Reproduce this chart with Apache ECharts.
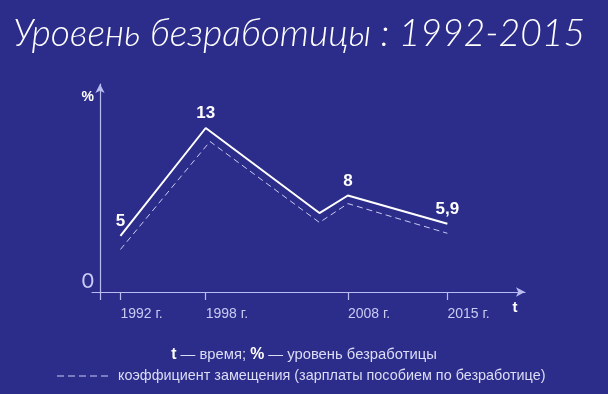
<!DOCTYPE html>
<html>
<head>
<meta charset="utf-8">
<script src="https://cdn.jsdelivr.net/npm/echarts@6/dist/echarts.min.js"></script>
<style>html,body{margin:0;padding:0;background:#2c2d8a;}#c{width:608px;height:394px;}</style>
</head>
<body>
<div id="c"></div>
<script>
const titleText = 'Уровень безработицы : 1992-2015';
const years = [1992, 1998, 2006, 2008, 2015];
const unemployment = [5, 13, 6.7, 8, 5.9];
const pointLabels = ['5', '13', '', '8', '5,9'];
const ratioYears = [1992, 1998.3, 2006, 2008, 2015];
const replacementRatio = [4.0, 12.0, 6.0, 7.4, 5.2];
const tickYears = [1992, 1998, 2008, 2015];
const tickLabels = ['1992 г.', '1998 г.', '2008 г.', '2015 г.'];
const yAxisCross = 1990.59;
const yMin = 0.85, yMax = 16.26;
const xMin = 1990, xMax = 2020.46;
const footer1 = '{b|t} — время; {b|%} — уровень безработицы';
const legendName = 'коэффициент замещения (зарплаты пособием по безработице)';

const axisColor = '#b9bcf0';
const textColor = '#c9cbf4';
const chart = echarts.init(document.getElementById('c'));
chart.setOption({
  backgroundColor: '#2c2d8a',
  animation: false,
  title: [{
    text: titleText, left: 8, top: 10,
    textStyle: {color: '#ffffff', fontFamily: 'Lato', fontStyle: 'italic', fontWeight: 300, fontSize: 37.3}
  }, {
    text: footer1, left: 'center', top: 342,
    textStyle: {color: '#dcdcf6', fontFamily: 'Liberation Sans', fontWeight: 'normal', fontSize: 14.8,
      rich: {b: {color: '#ffffff', fontFamily: 'Liberation Sans', fontWeight: 'bold', fontSize: 15.8}}}
  }],
  legend: {
    left: 57, top: 369, padding: 0, itemWidth: 51, itemHeight: 1.5,
    icon: 'path://M0 0h7v1h-7z M11 0h7v1h-7z M22 0h7v1h-7z M33 0h7v1h-7z M44 0h7v1h-7z',
    itemStyle: {color: '#c9cbf4'},
    data: [legendName],
    textStyle: {color: '#dcdcf6', fontFamily: 'Liberation Sans', fontSize: 14.4, padding: [0, 0, 0, 5]}
  },
  grid: {left: 92, right: 83, top: 84, bottom: 102, containLabel: false},
  xAxis: {
    type: 'value', min: xMin, max: xMax, name: 't', nameLocation: 'end', nameGap: -10,
    nameTextStyle: {color: '#ffffff', fontFamily: 'Liberation Sans', fontWeight: 'bold', fontSize: 15, align: 'center', verticalAlign: 'top', padding: [8, 0, 0, 0]},
    axisLine: {show: true, symbol: ['none', 'arrow'], symbolSize: [7, 9], lineStyle: {color: axisColor, width: 1.2}},
    axisTick: {show: true, inside: false, length: 8, customValues: [yAxisCross].concat(tickYears), lineStyle: {color: axisColor, width: 1.2}},
    axisLabel: {show: true, customValues: tickYears, margin: 15, color: textColor, fontFamily: 'Liberation Sans', fontSize: 14, align: 'left',
      formatter: v => tickLabels[tickYears.indexOf(Math.round(v))] || ''},
    splitLine: {show: false}
  },
  yAxis: {
    type: 'value', min: yMin, max: yMax, offset: -8, name: '%', nameLocation: 'end', nameGap: -13,
    nameTextStyle: {color: '#ffffff', fontFamily: 'Liberation Sans', fontWeight: 'bold', fontSize: 14, align: 'right', verticalAlign: 'middle', padding: [0, 6, 0, 0]},
    axisLine: {show: true, symbol: ['none', 'arrow'], symbolSize: [7, 9], lineStyle: {color: axisColor, width: 1.2}},
    axisTick: {show: false},
    axisLabel: {show: true, customValues: [yMin], margin: 6, color: textColor, fontFamily: 'Lato', fontWeight: 'normal', fontSize: 21, formatter: () => '0', verticalAlign: 'bottom'},
    splitLine: {show: false}
  },
  series: [{
    name: 'Уровень безработицы', type: 'line', symbol: 'circle', symbolSize: 0.1, showSymbol: true,
    data: years.map((y, i) => [y, unemployment[i]]),
    itemStyle: {color: '#ffffff'},
    lineStyle: {color: '#ffffff', width: 2},
    label: {show: true, position: 'top', distance: 6, color: '#ffffff', fontFamily: 'Liberation Sans', fontWeight: 'bold', fontSize: 17,
      formatter: p => pointLabels[p.dataIndex]}
  }, {
    name: legendName, type: 'line', symbol: 'none',
    data: ratioYears.map((y, i) => [y, replacementRatio[i]]),
    itemStyle: {color: '#c9cbf4'},
    lineStyle: {color: '#c9cbf4', width: 1, type: [6, 4]}
  }]
});
</script>
</body>
</html>
